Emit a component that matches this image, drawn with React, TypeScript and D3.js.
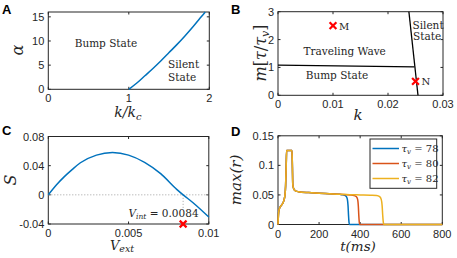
import React from "react";
import * as d3 from "d3";

const AXIS = "#262626";
const BLUE = "#0072BD";
const RED = "#D95319";
const YELLOW = "#EDB120";
const SANS = "'Liberation Sans', Arial, sans-serif";
const SERIF = "'DejaVu Serif', serif";

// ---------------- Panel A data ----------------
const aXTicks = [0, 1, 2];
const aXTickLabels = ["0", "1", "2"];
const aYTicks = [0, 5, 10, 15];
const aYTickLabels = ["0", "5", "10", "15"];
const aCurveK = [1, 1.1, 1.2, 1.3, 1.4, 1.5, 1.6, 1.7, 1.8, 1.9, 1.95];
const aCurveAlpha = [0, 1.3, 2.8, 4.3, 5.9, 7.6, 9.3, 11.1, 13.0, 15.0, 16];

// ---------------- Panel B data ----------------
const bXTicks = [0, 0.01, 0.02, 0.03];
const bXTickLabels = ["0", "0.01", "0.02", "0.03"];
const bYTicks = [0, 1, 2, 3];
const bYTickLabels = ["0", "1", "2", "3"];
const bLowerBoundaryK = [0, 0.0248];
const bLowerBoundaryM = [1.08, 1.02];
const bSilentBoundaryK = [0.0238, 0.02545];
const bSilentBoundaryM = [3, 0];
const bMarkerLabels = ["M", "N"];
const bMarkerK = [0.01, 0.025];
const bMarkerM = [2.5, 0.5];

// ---------------- Panel C data ----------------
const cXTicks = [0, 0.005, 0.01];
const cXTickLabels = ["0", "0.005", "0.01"];
const cYTicks = [-0.04, 0, 0.04, 0.08];
const cYTickLabels = ["-0.04", "0", "0.04", "0.08"];
const cV = [0, 0.0005, 0.001, 0.0015, 0.002, 0.003, 0.004, 0.005, 0.006, 0.007, 0.008, 0.0084, 0.009, 0.01];
const cS = [0, 0.0135, 0.025, 0.035, 0.044, 0.0545, 0.058, 0.0545, 0.0445, 0.029, 0.0075, 0, -0.0105, -0.0305];
const cVint = 0.0084;

// ---------------- Panel D data ----------------
const dXTicks = [0, 200, 400, 600, 800];
const dXTickLabels = ["0", "200", "400", "600", "800"];
const dYTicks = [0, 0.05, 0.1, 0.15];
const dYTickLabels = ["0", "0.05", "0.1", "0.15"];
const dTau = [78, 80, 82];
const dColors = [BLUE, RED, YELLOW];
const dRiseT = [0, 3, 8, 18, 28, 34, 37, 40, 42, 68, 70, 72, 76, 85, 100, 150, 200, 250, 300];
const dRiseR = [0, 0.02, 0.028, 0.033, 0.04, 0.05, 0.065, 0.1, 0.125, 0.125, 0.1, 0.068, 0.061, 0.057, 0.0555, 0.054, 0.053, 0.052, 0.051];
const dTail78T = [310, 325, 333, 338, 341, 343.5, 346, 348, 800];
const dTail78R = [0.0505, 0.0495, 0.047, 0.042, 0.032, 0.015, 0.003, 0, 0];
const dTail80T = [350, 370, 382, 388, 391, 393.5, 396, 398, 800];
const dTail80R = [0.05, 0.049, 0.047, 0.042, 0.032, 0.015, 0.003, 0, 0];
const dTail82T = [350, 400, 450, 480, 495, 503, 507, 510, 513, 515, 800];
const dTail82R = [0.0505, 0.05, 0.0495, 0.049, 0.047, 0.042, 0.032, 0.015, 0.003, 0, 0];

type Scale = d3.ScaleLinear<number, number>;

const TL = 2.5;

function Frame({ x, y, xTicks, xLabels, yTicks, yLabels }: {
  x: Scale; y: Scale; xTicks: number[]; xLabels: string[]; yTicks: number[]; yLabels: string[];
}) {
  const [x0, x1] = x.range();
  const [yb, yt] = y.range();
  return (
    <g>
      <rect x={x0} y={yt} width={x1 - x0} height={yb - yt} fill="white" stroke={AXIS} strokeWidth={1} />
      {xTicks.map((t, i) => (
        <g key={"x" + i}>
          <line x1={x(t)} x2={x(t)} y1={yb} y2={yb - TL} stroke={AXIS} strokeWidth={1} />
          <line x1={x(t)} x2={x(t)} y1={yt} y2={yt + TL} stroke={AXIS} strokeWidth={1} />
          <text x={x(t)} y={yb + 13} textAnchor="middle" fontFamily={SANS} fontSize={11} fill={AXIS}>{xLabels[i]}</text>
        </g>
      ))}
      {yTicks.map((t, i) => (
        <g key={"y" + i}>
          <line x1={x0} x2={x0 + TL} y1={y(t)} y2={y(t)} stroke={AXIS} strokeWidth={1} />
          <line x1={x1} x2={x1 - TL} y1={y(t)} y2={y(t)} stroke={AXIS} strokeWidth={1} />
          <text x={x0 - 4} y={y(t) + 4} textAnchor="end" fontFamily={SANS} fontSize={11} fill={AXIS}>{yLabels[i]}</text>
        </g>
      ))}
    </g>
  );
}

function Cross({ cx, cy }: { cx: number; cy: number }) {
  const s = 3.4;
  return (
    <g stroke="#FF0000" strokeWidth={2.2}>
      <line x1={cx - s} y1={cy - s} x2={cx + s} y2={cy + s} />
      <line x1={cx - s} y1={cy + s} x2={cx + s} y2={cy - s} />
    </g>
  );
}

export default function App() {
  // Panel A
  const ax = d3.scaleLinear().domain([0, 2]).range([48.3, 209.3]);
  const ay = d3.scaleLinear().domain([0, 16]).range([89.3, 12]);
  const aLine = d3.line<number>().x((d, i) => ax(aCurveK[i])).y((d) => ay(d)).curve(d3.curveMonotoneX);

  // Panel B
  const bx = d3.scaleLinear().domain([0, 0.03]).range([278, 443]);
  const by = d3.scaleLinear().domain([0, 3]).range([95.3, 11.7]);
  const bLine = d3.line<[number, number]>().x((d) => bx(d[0])).y((d) => by(d[1]));

  // Panel C
  const cx = d3.scaleLinear().domain([0, 0.01]).range([48.3, 208.8]);
  const cy = d3.scaleLinear().domain([-0.04, 0.08]).range([224, 136.5]);
  const cLine = d3.line<number>().x((d, i) => cx(cV[i])).y((d) => cy(d)).curve(d3.curveMonotoneX);

  // Panel D
  const dx = d3.scaleLinear().domain([0, 800]).range([278, 442.3]);
  const dy = d3.scaleLinear().domain([0, 0.15]).range([224.5, 135.8]);
  const dLine = d3.line<[number, number]>().x((d) => dx(d[0])).y((d) => dy(d[1])).curve(d3.curveMonotoneX);
  const tails = [[dTail78T, dTail78R], [dTail80T, dTail80R], [dTail82T, dTail82R]];
  const dSeries = tails.map(([tt, rr]) => {
    const pts: [number, number][] = dRiseT.map((t, i) => [t, dRiseR[i]] as [number, number]);
    tt.forEach((t, i) => pts.push([t, rr[i]]));
    return pts;
  });

  return (
    <svg width={457} height={258} style={{ position: "absolute", left: 0, top: 0, background: "white" }}>
      {/* ---------- A ---------- */}
      <text x={2} y={14} fontFamily={SANS} fontWeight="bold" fontSize={13} fill="black">A</text>
      <Frame x={ax} y={ay} xTicks={aXTicks} xLabels={aXTickLabels} yTicks={aYTicks} yLabels={aYTickLabels} />
      <path d={aLine(aCurveAlpha) || ""} fill="none" stroke={BLUE} strokeWidth={1.5} />
      <text x={106} y={46.5} textAnchor="middle" fontFamily={SERIF} fontSize={10.5} fill={AXIS}>Bump State</text>
      <text x={168} y={67.5} fontFamily={SERIF} fontSize={10.5} fill={AXIS}>Silent</text>
      <text x={168} y={80.5} fontFamily={SERIF} fontSize={10.5} fill={AXIS}>State</text>
      <text transform="translate(23,50) rotate(-90)" textAnchor="middle" fontFamily={SERIF} fontStyle="italic" fontSize={16} fill={AXIS}>α</text>
      <text x={128} y={117} textAnchor="middle" fontFamily={SERIF} fontStyle="italic" fontSize={14} fill={AXIS}>
        k/k<tspan fontSize={10} dy={3}>c</tspan>
      </text>

      {/* ---------- B ---------- */}
      <text x={231} y={14} fontFamily={SANS} fontWeight="bold" fontSize={13} fill="black">B</text>
      <Frame x={bx} y={by} xTicks={bXTicks} xLabels={bXTickLabels} yTicks={bYTicks} yLabels={bYTickLabels} />
      <path d={bLine(bLowerBoundaryK.map((k, i) => [k, bLowerBoundaryM[i]] as [number, number])) || ""} fill="none" stroke="black" strokeWidth={1.3} />
      <path d={bLine(bSilentBoundaryK.map((k, i) => [k, bSilentBoundaryM[i]] as [number, number])) || ""} fill="none" stroke="black" strokeWidth={1.3} />
      <text x={344.7} y={54.5} textAnchor="middle" fontFamily={SERIF} fontSize={10.5} fill={AXIS}>Traveling Wave</text>
      <text x={337} y={78.5} textAnchor="middle" fontFamily={SERIF} fontSize={10.5} fill={AXIS}>Bump State</text>
      <text x={412.5} y={28.5} fontFamily={SERIF} fontSize={10.5} fill={AXIS}>Silent</text>
      <text x={413} y={39.5} fontFamily={SERIF} fontSize={10.5} fill={AXIS}>State</text>
      {bMarkerLabels.map((lab, i) => (
        <g key={lab}>
          <Cross cx={bx(bMarkerK[i])} cy={by(bMarkerM[i])} />
          <text x={bx(bMarkerK[i]) + 6} y={by(bMarkerM[i]) + 4} fontFamily={SERIF} fontSize={10} fill={AXIS}>{lab}</text>
        </g>
      ))}
      <text transform="translate(266,53) rotate(-90)" textAnchor="middle" fontFamily={SERIF} fontSize={16} fill={AXIS}>
        <tspan fontStyle="italic">m</tspan>[<tspan fontStyle="italic">τ</tspan>/<tspan fontStyle="italic">τ</tspan><tspan fontStyle="italic" fontSize={11} dy={3}>v</tspan><tspan dy={-3}>]</tspan>
      </text>
      <text x={358} y={120} textAnchor="middle" fontFamily={SERIF} fontStyle="italic" fontSize={15} fill={AXIS}>k</text>

      {/* ---------- C ---------- */}
      <text x={2} y={135} fontFamily={SANS} fontWeight="bold" fontSize={13} fill="black">C</text>
      <Frame x={cx} y={cy} xTicks={cXTicks} xLabels={cXTickLabels} yTicks={cYTicks} yLabels={cYTickLabels} />
      <line x1={cx(0)} x2={cx(0.01)} y1={cy(0)} y2={cy(0)} stroke="#a0a0a0" strokeWidth={1} strokeDasharray="1,2" />
      <line x1={cx(cVint)} x2={cx(cVint)} y1={cy(0)} y2={cy(-0.019)} stroke="#a0a0a0" strokeWidth={1} strokeDasharray="1,2" />
      <path d={cLine(cS) || ""} fill="none" stroke={BLUE} strokeWidth={1.5} />
      <text x={128.5} y={216.5} fontFamily={SERIF} fontSize={10.5} fill={AXIS}>
        <tspan fontStyle="italic">V</tspan><tspan fontStyle="italic" fontSize={7.5} dy={2}>int</tspan><tspan dy={-2}> = 0.0084</tspan>
      </text>
      <Cross cx={cx(cVint)} cy={cy(-0.04)} />
      <text transform="translate(16,180) rotate(-90)" textAnchor="middle" fontFamily={SERIF} fontStyle="italic" fontSize={16} fill={AXIS}>S</text>
      <text x={122} y={249.5} textAnchor="middle" fontFamily={SERIF} fontSize={13} fill={AXIS}>
        <tspan fontStyle="italic">V</tspan><tspan fontStyle="italic" fontSize={9.5} dy={2.5}>ext</tspan>
      </text>

      {/* ---------- D ---------- */}
      <text x={231} y={136} fontFamily={SANS} fontWeight="bold" fontSize={13} fill="black">D</text>
      <Frame x={dx} y={dy} xTicks={dXTicks} xLabels={dXTickLabels} yTicks={dYTicks} yLabels={dYTickLabels} />
      {dSeries.map((pts, i) => (
        <path key={i} d={dLine(pts) || ""} fill="none" stroke={dColors[i]} strokeWidth={1.5} />
      ))}
      <rect x={370} y={139} width={66.7} height={49.3} fill="white" stroke={AXIS} strokeWidth={1} />
      {dTau.map((tau, i) => {
        const yy = 148.5 + i * 15;
        return (
          <g key={tau}>
            <line x1={372.5} x2={399} y1={yy} y2={yy} stroke={dColors[i]} strokeWidth={1.5} />
            <text x={401.5} y={yy + 3.5} fontFamily={SERIF} fontSize={10} fill={AXIS}>
              <tspan fontStyle="italic">τ</tspan><tspan fontStyle="italic" fontSize={7} dy={2}>v</tspan><tspan dy={-2}> = {tau}</tspan>
            </text>
          </g>
        );
      })}
      <text transform="translate(241,180) rotate(-90)" textAnchor="middle" fontFamily={SERIF} fontStyle="italic" fontSize={15} fill={AXIS}>max(r)</text>
      <text x={358} y={251} textAnchor="middle" fontFamily={SERIF} fontStyle="italic" fontSize={13.5} fill={AXIS}>t(ms)</text>
    </svg>
  );
}
